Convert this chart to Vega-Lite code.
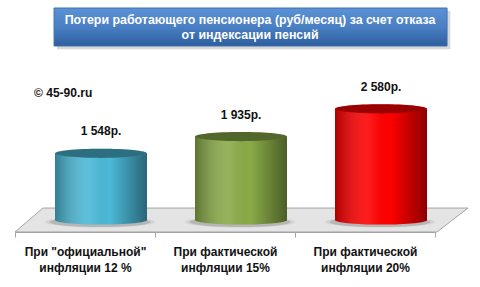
{
  "$schema": "https://vega.github.io/schema/vega-lite/v6.json",
  "width": 420,
  "height": 232,
  "autosize": {"type": "none"},
  "padding": {"left": 15, "top": 0, "right": 45, "bottom": 55},
  "background": "white",
  "config": {"view": {"stroke": null}, "font": "Liberation Sans"},
  "datasets": {
    "bars": [
      {"cat": "При \"официальной\"|инфляции 12 %", "value": 1548, "label": "1 548р."},
      {"cat": "При фактической|инфляции 15%", "value": 1935, "label": "1 935р."},
      {"cat": "При фактической|инфляции 20%", "value": 2580, "label": "2 580р."}
    ],
    "floor": [
      {"depth": -278, "left": 0, "right": 3.014},
      {"depth": 278, "left": 0.2, "right": 3.236}
    ],
    "deco": [{"title": ["Потери работающего пенсионера (руб/месяц) за счет  отказа", "от индексации  пенсий"], "mark": "© 45-90.ru"}]
  },
  "data": {"name": "bars"},
  "resolve": {"scale": {"x": "independent"}},
  "layer": [
    {
      "data": {"name": "floor"},
      "mark": {"type": "area", "orient": "horizontal", "fill": "#e4e4e4", "stroke": "#a3a3a3", "strokeWidth": 1},
      "encoding": {
        "y": {"field": "depth", "type": "quantitative", "scale": {"domain": [-278, 5104], "nice": false, "zero": false}, "axis": null},
        "x": {"field": "left", "type": "quantitative", "scale": {"domain": [0, 3], "nice": false, "zero": false}, "axis": null},
        "x2": {"field": "right"}
      }
    },
    {
      "data": {"name": "deco"},
      "mark": {"type": "rect", "fill": "#7f7f7f", "opacity": 0.3},
      "encoding": {
        "x": {"datum": 0.3, "type": "quantitative", "scale": {"domain": [0, 3], "nice": false, "zero": false}, "axis": null},
        "x2": {"datum": 3.11},
        "y": {"datum": 4850, "type": "quantitative", "scale": {"domain": [-278, 5104], "nice": false, "zero": false}, "axis": null},
        "y2": {"datum": 3960}
      }
    },
    {
      "data": {"name": "deco"},
      "mark": {"type": "rect", "fill": {"gradient": "linear", "x1": 0, "y1": 0, "x2": 0, "y2": 1, "stops": [{"offset": 0, "color": "#5b91d5"}, {"offset": 0.5, "color": "#4a7fc3"}, {"offset": 1, "color": "#2e5e9e"}]}, "stroke": "#3d6fb0", "strokeWidth": 1},
      "encoding": {
        "x": {"datum": 0.279, "type": "quantitative", "scale": {"domain": [0, 3], "nice": false, "zero": false}, "axis": null},
        "x2": {"datum": 3.086},
        "y": {"datum": 4918, "type": "quantitative", "scale": {"domain": [-278, 5104], "nice": false, "zero": false}, "axis": null},
        "y2": {"datum": 4037}
      }
    },
    {
      "data": {"name": "deco"},
      "mark": {"type": "text", "color": "white", "fontWeight": "bold", "fontSize": 12.4, "lineHeight": 15, "align": "center", "baseline": "middle"},
      "encoding": {
        "x": {"datum": 1.679, "type": "quantitative", "scale": {"domain": [0, 3], "nice": false, "zero": false}, "axis": null},
        "y": {"datum": 4640, "type": "quantitative", "scale": {"domain": [-278, 5104], "nice": false, "zero": false}, "axis": null},
        "text": {"field": "title"}
      }
    },
    {
      "data": {"name": "deco"},
      "mark": {"type": "text", "color": "#111111", "fontWeight": "bold", "fontSize": 12, "align": "left", "baseline": "middle"},
      "encoding": {
        "x": {"datum": 0.136, "type": "quantitative", "scale": {"domain": [0, 3], "nice": false, "zero": false}, "axis": null},
        "y": {"datum": 2946, "type": "quantitative", "scale": {"domain": [-278, 5104], "nice": false, "zero": false}, "axis": null},
        "text": {"field": "mark"}
      }
    },
    {
      "mark": {"type": "point", "shape": "M -1 0 C -1 -0.0552 -0.5523 -0.1 0 -0.1 C 0.5523 -0.1 1 -0.0552 1 0 C 1 0.0552 0.5523 0.1 0 0.1 C -0.5523 0.1 -1 0.0552 -1 0 Z", "size": 12100, "filled": true, "fill": "#606060", "opacity": 0.12, "strokeWidth": 0, "xOffset": 15, "yOffset": 2},
      "encoding": {
        "x": {"field": "cat", "type": "nominal", "sort": null, "scale": {"paddingInner": 0, "paddingOuter": 0}, "axis": null},
        "y": {"datum": 0, "type": "quantitative", "scale": {"domain": [-278, 5104], "nice": false, "zero": false}, "axis": null}
      }
    },
    {
      "mark": {"type": "point", "shape": "M -1 0 C -1 -0.0552 -0.5523 -0.1 0 -0.1 C 0.5523 -0.1 1 -0.0552 1 0 C 1 0.0552 0.5523 0.1 0 0.1 C -0.5523 0.1 -1 0.0552 -1 0 Z", "size": 10200, "filled": true, "fill": "#404040", "opacity": 0.2, "strokeWidth": 0, "xOffset": 15, "yOffset": 2},
      "encoding": {
        "x": {"field": "cat", "type": "nominal", "sort": null, "scale": {"paddingInner": 0, "paddingOuter": 0}, "axis": null},
        "y": {"datum": 0, "type": "quantitative", "scale": {"domain": [-278, 5104], "nice": false, "zero": false}, "axis": null}
      }
    },
    {
      "mark": {"type": "point", "shape": "M -1 0 C -1 -0.0552 -0.5523 -0.1 0 -0.1 C 0.5523 -0.1 1 -0.0552 1 0 C 1 0.0552 0.5523 0.1 0 0.1 C -0.5523 0.1 -1 0.0552 -1 0 Z", "size": 8464, "filled": true, "opacity": 1, "strokeWidth": 0, "xOffset": 16},
      "encoding": {
        "x": {"field": "cat", "type": "nominal", "sort": null, "scale": {"paddingInner": 0, "paddingOuter": 0}, "axis": null},
        "y": {"datum": 0, "type": "quantitative", "scale": {"domain": [-278, 5104], "nice": false, "zero": false}, "axis": null},
        "color": {"field": "cat", "type": "nominal", "sort": null, "scale": {"range": ["#4bb9d7", "#8aab48", "#ff0000"]}, "legend": null}
      }
    },
    {
      "mark": {"type": "point", "shape": "M -1 0 C -1 -0.0552 -0.5523 -0.1 0 -0.1 C 0.5523 -0.1 1 -0.0552 1 0 C 1 0.0552 0.5523 0.1 0 0.1 C -0.5523 0.1 -1 0.0552 -1 0 Z", "size": 8464, "filled": true, "opacity": 1, "strokeWidth": 0, "xOffset": 16, "fill": {"gradient": "linear", "x1": 0, "y1": 0, "x2": 1, "y2": 0, "stops": [{"offset": 0, "color": "rgba(0,0,0,0.32)"}, {"offset": 0.38, "color": "rgba(255,255,255,0.1)"}, {"offset": 0.6, "color": "rgba(0,0,0,0)"}, {"offset": 1, "color": "rgba(0,0,0,0.45)"}]}},
      "encoding": {
        "x": {"field": "cat", "type": "nominal", "sort": null, "scale": {"paddingInner": 0, "paddingOuter": 0}, "axis": null},
        "y": {"datum": 0, "type": "quantitative", "scale": {"domain": [-278, 5104], "nice": false, "zero": false}, "axis": null}
      }
    },
    {
      "mark": {"type": "bar", "width": 92, "xOffset": 16},
      "encoding": {
        "x": {"field": "cat", "type": "nominal", "sort": null, "scale": {"paddingInner": 0, "paddingOuter": 0},
          "axis": {"title": null, "labelAngle": 0, "labelExpr": "split(datum.label, '|')", "labelFont": "Liberation Sans", "labelFontWeight": "bold", "labelFontSize": 12, "labelColor": "#111111", "labelLineHeight": 16, "labelPadding": 9, "tickSize": 5, "tickColor": "#a3a3a3", "domainColor": "#a3a3a3", "tickBand": "extent", "labelOverlap": false, "labelLimit": 0}},
        "y": {"field": "value", "type": "quantitative", "scale": {"domain": [-278, 5104], "nice": false, "zero": false}, "axis": null},
        "y2": {"datum": 0},
        "color": {"field": "cat", "type": "nominal", "sort": null, "scale": {"range": ["#4bb9d7", "#8aab48", "#ff0000"]}, "legend": null}
      }
    },
    {
      "mark": {"type": "bar", "width": 92, "xOffset": 16, "fill": {"gradient": "linear", "x1": 0, "y1": 0, "x2": 1, "y2": 0, "stops": [{"offset": 0, "color": "rgba(0,0,0,0.32)"}, {"offset": 0.38, "color": "rgba(255,255,255,0.1)"}, {"offset": 0.6, "color": "rgba(0,0,0,0)"}, {"offset": 1, "color": "rgba(0,0,0,0.45)"}]}},
      "encoding": {
        "x": {"field": "cat", "type": "nominal", "sort": null, "scale": {"paddingInner": 0, "paddingOuter": 0}, "axis": null},
        "y": {"field": "value", "type": "quantitative", "scale": {"domain": [-278, 5104], "nice": false, "zero": false}, "axis": null},
        "y2": {"datum": 0}
      }
    },
    {
      "mark": {"type": "point", "shape": "M -1 0 C -1 -0.0552 -0.5523 -0.1 0 -0.1 C 0.5523 -0.1 1 -0.0552 1 0 C 1 0.0552 0.5523 0.1 0 0.1 C -0.5523 0.1 -1 0.0552 -1 0 Z", "size": 8464, "filled": true, "opacity": 1, "strokeWidth": 0, "xOffset": 16},
      "encoding": {
        "x": {"field": "cat", "type": "nominal", "sort": null, "scale": {"paddingInner": 0, "paddingOuter": 0}, "axis": null},
        "y": {"field": "value", "type": "quantitative", "scale": {"domain": [-278, 5104], "nice": false, "zero": false}, "axis": null},
        "color": {"field": "cat", "type": "nominal", "sort": null, "scale": {"range": ["#4bb9d7", "#8aab48", "#ff0000"]}, "legend": null}
      }
    },
    {
      "mark": {"type": "point", "shape": "M -1 0 C -1 -0.0552 -0.5523 -0.1 0 -0.1 C 0.5523 -0.1 1 -0.0552 1 0 C 1 0.0552 0.5523 0.1 0 0.1 C -0.5523 0.1 -1 0.0552 -1 0 Z", "size": 8464, "filled": true, "fill": "#000000", "opacity": 0.4, "strokeWidth": 0, "xOffset": 16},
      "encoding": {
        "x": {"field": "cat", "type": "nominal", "sort": null, "scale": {"paddingInner": 0, "paddingOuter": 0}, "axis": null},
        "y": {"field": "value", "type": "quantitative", "scale": {"domain": [-278, 5104], "nice": false, "zero": false}, "axis": null}
      }
    },
    {
      "mark": {"type": "text", "fontWeight": "bold", "fontSize": 12, "color": "#111111", "dy": -22, "xOffset": 16, "baseline": "middle"},
      "encoding": {
        "x": {"field": "cat", "type": "nominal", "sort": null, "scale": {"paddingInner": 0, "paddingOuter": 0}, "axis": null},
        "y": {"field": "value", "type": "quantitative", "scale": {"domain": [-278, 5104], "nice": false, "zero": false}, "axis": null},
        "text": {"field": "label"}
      }
    }
  ]
}
